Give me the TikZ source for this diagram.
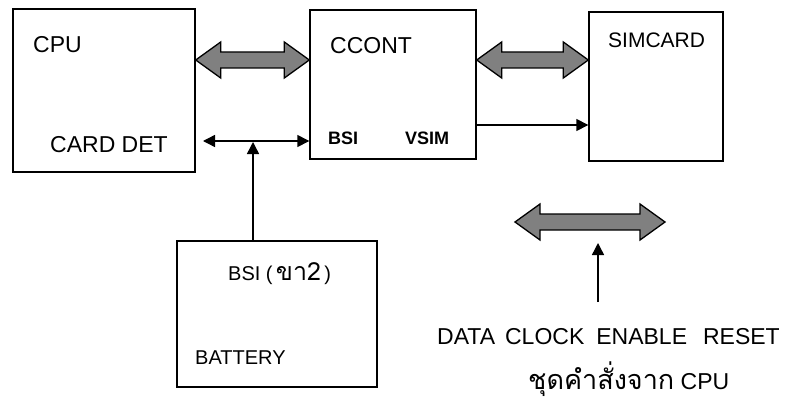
\documentclass[tikz,border=0pt]{standalone}
\usepackage{fontspec}
\setmainfont{Liberation Sans}
\newfontfamily\thaifont[Script=Thai]{Loma}
\usepackage{tikz}
\usetikzlibrary{arrows.meta,calc}
\definecolor{BusGray}{HTML}{808080}

\newcommand{\busarrow}[2]{%
  \draw[bus] (#1) -- ($(#1)+(25,-18)$) -- ($(#1)+(25,-8)$) -- ($(#2)+(-25,-8)$)
    -- ($(#2)+(-25,-18)$) -- (#2) -- ($(#2)+(-25,18)$) -- ($(#2)+(-25,8)$)
    -- ($(#1)+(25,8)$) -- ($(#1)+(25,18)$) -- cycle;}

\begin{document}
\begin{tikzpicture}[x=1pt,y=-1pt,>={Triangle[length=12pt,width=12pt]},
  blk/.style={draw,line width=1.4pt,inner sep=0pt},
  lbl/.style={anchor=west,inner sep=0pt,font=\fontsize{23}{26}\selectfont},
  pin/.style={anchor=west,inner sep=0pt,font=\fontsize{18}{20}\selectfont\bfseries},
  sig/.style={line width=1.4pt},
  bus/.style={draw,line width=1.3pt,fill=BusGray,line join=miter}]
  \useasboundingbox (0,0) rectangle (791,401);
  \node[blk,minimum width=182pt,minimum height=163pt] (cpu) at (104,90.5) {};
  \node[blk,minimum width=166pt,minimum height=149pt] (ccont) at (393,84.5) {};
  \node[blk,minimum width=134pt,minimum height=149pt] (sim) at (656,86.5) {};
  \node[blk,minimum width=200pt,minimum height=146pt] (bat) at (277,314) {};
  \node[lbl] (cpulbl) at (33,45) {CPU};
  \node[lbl] (carddet) at (50,145) {CARD DET};
  \node[lbl] (ccontlbl) at (330,46) {CCONT};
  \node[lbl,font=\fontsize{21}{24}\selectfont] (simlbl) at (608,40) {SIMCARD};
  \node[pin] (bsipin) at (328,138) {BSI};
  \node[pin] (vsimpin) at (405,138) {VSIM};
  \node[lbl,anchor=base west,font=\fontsize{20}{22}\selectfont] (batpin) at (228,280)
    {BSI (\,{\thaifont\fontsize{25}{26}\selectfont ขา2}\,)};
  \node[lbl,font=\fontsize{20}{22}\selectfont] (batlbl) at (195,358) {BATTERY};
  \coordinate (busA) at (cpu.east |- 0,60);
  \coordinate (busB) at (ccont.west |- 0,60);
  \coordinate (busC) at (ccont.east |- 0,60);
  \coordinate (busD) at (sim.west |- 0,60);
  \busarrow{busA}{busB}
  \busarrow{busC}{busD}
  \coordinate (bsiL) at (203,141);
  \coordinate (bsiJ) at (253,142);
  \draw[sig,<->] (bsiL) -- (ccont.west |- bsiL);
  \draw[sig,->] (bat.north -| bsiJ) -- (bsiJ);
  \draw[sig,->] (ccont.east |- 0,125) -- (sim.west |- 0,125);
  \coordinate (legL) at (515,222);
  \coordinate (legR) at (665,222);
  \busarrow{legL}{legR}
  \coordinate (legtail) at (598,302);
  \coordinate (legtip) at (598,243);
  \draw[sig,->] (legtail) -- (legtip);
  \node[lbl] (sigs) at (437,337) {DATA\hspace{10pt}CLOCK\hspace{12pt}ENABLE\hspace{16pt}RESET};
  \node[lbl,anchor=base west] (cmd) at (528,389) {{\thaifont\fontsize{27}{30}\selectfont ชุดคำสั่งจาก} CPU};
\end{tikzpicture}
\end{document}
